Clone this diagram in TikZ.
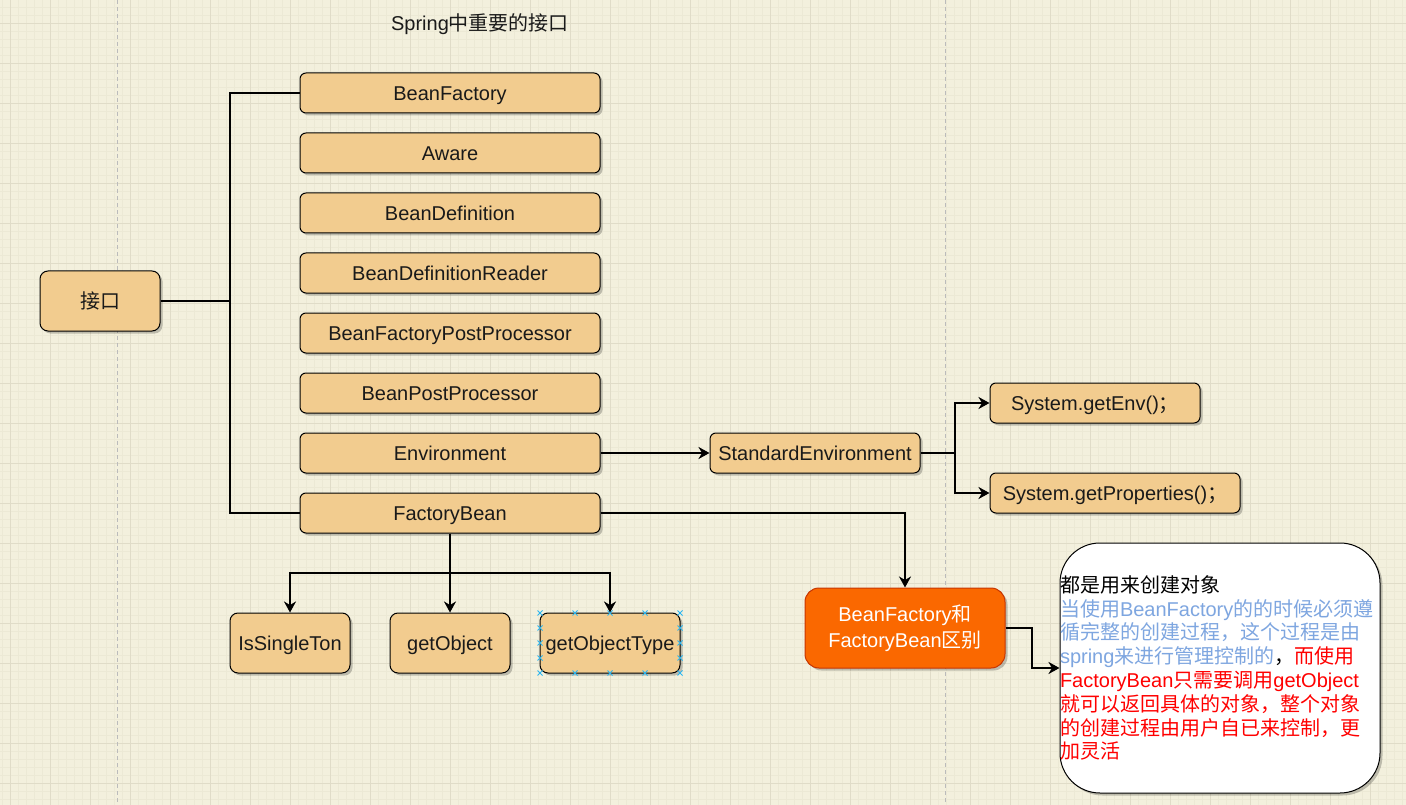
\documentclass[tikz,border=0pt]{standalone}
\usepackage{fontspec}
\setmainfont{Liberation Sans}
\newfontfamily\zhfont{Noto Sans CJK SC}
\newcommand\zh[1]{{\zhfont #1}}
\usetikzlibrary{arrows.meta,shadows}
\definecolor{bgc}{HTML}{F3F0DD}
\definecolor{minorc}{HTML}{ECE9D5}
\definecolor{majorc}{HTML}{E0DCC8}
\definecolor{pagec}{HTML}{BBBBBB}
\definecolor{boxfill}{HTML}{F2CC8F}
\definecolor{txtc}{HTML}{1A1A1A}
\definecolor{orangef}{HTML}{FA6800}
\definecolor{oranged}{HTML}{C73500}
\definecolor{bluet}{HTML}{7EA6E0}
\definecolor{redt}{HTML}{FF0000}
\definecolor{handlec}{HTML}{29B6F2}
\tikzset{
  minorgrid/.style={draw=minorc, line width=0.6pt},
  majorgrid/.style={draw=majorc, line width=1pt},
  pagebreak/.style={draw=pagec, line width=0.8pt, dash pattern=on 4pt off 3pt},
  boxshadow/.style={drop shadow={shadow xshift=2.5pt, shadow yshift=-2.5pt, opacity=0.22, fill=black}},
  ibox/.style={draw=black, line width=1pt, fill=boxfill, rounded corners=6pt,
    minimum width=300pt, minimum height=40pt, inner sep=0pt, text=txtc,
    text height=14.5pt, text depth=0pt,
    font=\fontsize{20}{24}\selectfont, boxshadow},
  sbox/.style={ibox, minimum width=120pt, minimum height=60pt, rounded corners=8pt},
  diffbox/.style={draw=oranged, line width=1pt, fill=orangef, rounded corners=14pt,
    minimum width=200pt, minimum height=80pt, inner sep=0pt, text=white, align=center,
    font=\fontsize{20}{26}\selectfont, boxshadow},
  notebox/.style={draw=black, line width=1pt, fill=white, rounded corners=40pt,
    minimum width=320pt, minimum height=250pt, inner sep=0pt, text width=320pt, align=left,
    font=\fontsize{20}{23.8}\selectfont, boxshadow},
  conn/.style={draw=black, line width=2pt},
  arr/.style={conn, -{Stealth[length=11pt, width=12pt, inset=3.5pt]}},
  handle/.style={draw=handlec, line width=1pt},
}
\begin{document}
\begin{tikzpicture}[x=1pt,y=-1pt]
\useasboundingbox (0,0) rectangle (1406,805);
% background and grid
\fill[bgc] (0,0) rectangle (1406,805);
\foreach \k in {0,...,175} \draw[minorgrid] ({2+8*\k},0) -- ({2+8*\k},805);
\foreach \k in {0,...,99} \draw[minorgrid] (0,{7.3+8*\k}) -- (1406,{7.3+8*\k});
\foreach \k in {0,...,34} \draw[majorgrid] ({10+40*\k},0) -- ({10+40*\k},805);
\foreach \k in {0,...,19} \draw[majorgrid] (0,{23.3+40*\k}) -- (1406,{23.3+40*\k});
\draw[pagebreak] (117,0) -- (117,805);
\draw[pagebreak] (945,0) -- (945,805);

% title
\node[text=txtc, font=\fontsize{20}{24}\selectfont] (title) at (480,24) {Spring\zh{中重要的接口}};

% nodes
\node[sbox] (jk) at (100,301) {\zh{接口}};
\node[ibox] (bf)  at (450,93)  {BeanFactory};
\node[ibox] (aw)  at (450,153) {Aware};
\node[ibox] (bd)  at (450,213) {BeanDefinition};
\node[ibox] (bdr) at (450,273) {BeanDefinitionReader};
\node[ibox] (bfpp) at (450,333) {BeanFactoryPostProcessor};
\node[ibox] (bpp) at (450,393) {BeanPostProcessor};
\node[ibox] (env) at (450,453) {Environment};
\node[ibox] (fb)  at (450,513) {FactoryBean};
\node[ibox, minimum width=210pt] (se) at (815,453) {StandardEnvironment};
\node[ibox, minimum width=210pt] (ge) at (1095,403) {System.getEnv()\zh{；}};
\node[ibox, minimum width=250pt] (gp) at (1115,493) {System.getProperties()\zh{；}};
\node[sbox] (iss) at (290,643) {IsSingleTon};
\node[sbox] (go)  at (450,643) {getObject};
\node[sbox, minimum width=140pt] (got) at (610,643) {getObjectType};
\node[diffbox] (diff) at (905,628) {BeanFactory\zh{和}\\FactoryBean\zh{区别}};
\node[notebox] (note) at (1220,668) {%
\zh{都是用来创建对象}\\
\textcolor{bluet}{\zh{当使用}BeanFactory\zh{的的时候必须遵}}\\
\textcolor{bluet}{\zh{循完整的创建过程，这个过程是由}}\\
\textcolor{bluet}{spring\zh{来进行管理控制的}}\zh{，}\textcolor{redt}{\zh{而使用}}\\
\textcolor{redt}{FactoryBean\zh{只需要调用}getObject}\\
\textcolor{redt}{\zh{就可以返回具体的对象，整个对象}}\\
\textcolor{redt}{\zh{的创建过程由用户自已来控制，更}}\\
\textcolor{redt}{\zh{加灵活}}};

% selection handles on getObjectType
\foreach \hx/\hy in {540/613,575/613,610/613,645/613,680/613,
                     540/673,575/673,610/673,645/673,680/673,
                     540/628,540/643,540/658,680/628,680/643,680/658}
  \draw[handle] (\hx-2.5,\hy-2.5) -- (\hx+2.5,\hy+2.5) (\hx-2.5,\hy+2.5) -- (\hx+2.5,\hy-2.5);

% connectors
\coordinate (tr) at (230,0);
\draw[conn] (bf.west) -- (bf.west -| tr) -- (fb.west -| tr) -- (fb.west);
\draw[conn] (jk.east) -- (jk.east -| tr);
\draw[arr] (env.east) -- (se.west);
\coordinate (sp) at (955,0);
\draw[arr] (se.east) -- (se.east -| sp) |- (ge.west);
\draw[arr] (se.east -| sp) |- (gp.west);
\coordinate (fj) at (0,573);
\draw[arr] (fb.south) -- (fb.south |- fj) -| (iss.north);
\draw[arr] (fb.south) -- (go.north);
\draw[arr] (fb.south |- fj) -| (got.north);
\draw[arr] (fb.east) -| (diff.north);
\coordinate (mx) at (1032,0);
\draw[arr] (diff.east) -- (diff.east -| mx) |- (note.west);
\end{tikzpicture}
\end{document}
